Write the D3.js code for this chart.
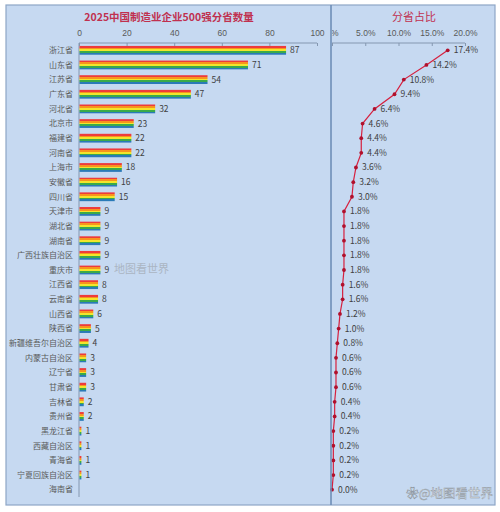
<!DOCTYPE html>
<html><head><meta charset="utf-8">
<script src="https://cdn.jsdelivr.net/npm/d3@7"></script>
<style>body{margin:0;background:#fff;}svg{display:block;font-family:"Microsoft YaHei","Noto Sans CJK SC",sans-serif;}</style>
</head><body><svg id="c" width="500" height="512"></svg>
<script>
const provinces = ["浙江省","山东省","江苏省","广东省","河北省","北京市","福建省","河南省","上海市","安徽省","四川省","天津市","湖北省","湖南省","广西壮族自治区","重庆市","江西省","云南省","山西省","陕西省","新疆维吾尔自治区","内蒙古自治区","辽宁省","甘肃省","吉林省","贵州省","黑龙江省","西藏自治区","青海省","宁夏回族自治区","海南省"];
const counts = [87,71,54,47,32,23,22,22,18,16,15,9,9,9,9,9,8,8,6,5,4,3,3,3,2,2,1,1,1,1,0];
const shares = [17.4,14.2,10.8,9.4,6.4,4.6,4.4,4.4,3.6,3.2,3.0,1.8,1.8,1.8,1.8,1.8,1.6,1.6,1.2,1.0,0.8,0.6,0.6,0.6,0.4,0.4,0.2,0.2,0.2,0.2,0.0];
const countTicks = [0,20,40,60,80,100];
const shareTicks = [0,5,10,15,20];
const shareTickLabels = ["0%","5.0%","10.0%","15.0%","20.0%"];
const stripeColors = ["#ee3b3b","#f7941d","#f2e52b","#3aaa4a","#2a7ab8"];

const svg = d3.select("#c");
svg.append("rect").attr("x",6).attr("y",5).attr("width",489).attr("height",500)
  .attr("fill","#c6d9f1").attr("stroke","#8ea6c6").attr("stroke-width",1.2);

const defs = svg.append("defs");
const grad = defs.append("linearGradient").attr("id","rainbow").attr("x1",0).attr("x2",0).attr("y1",0).attr("y2",1);
stripeColors.forEach((c,i)=>{
  grad.append("stop").attr("offset",i/stripeColors.length).attr("stop-color",c);
  grad.append("stop").attr("offset",(i+1)/stripeColors.length).attr("stop-color",c);
});
defs.append("clipPath").attr("id","rightClip").append("rect").attr("x",332).attr("y",0).attr("width",170).attr("height",512);

const y = d3.scaleBand().domain(provinces).range([43,497]).paddingInner(0.4).paddingOuter(0.2);
const xL = d3.scaleLinear().domain([0,100]).range([79,317]);
const xR = d3.scaleLinear().domain([0,20]).range([332,465]);

svg.append("text").attr("x",169).attr("y",21).attr("text-anchor","middle")
  .attr("font-size",10.5).attr("font-weight","bold").attr("fill","#c0304f").text("2025中国制造业企业500强分省数量");
svg.append("text").attr("x",414).attr("y",21).attr("text-anchor","middle")
  .attr("font-size",11).attr("fill","#c0304f").text("分省占比");

const axL = svg.append("g").attr("transform","translate(0,43)")
  .call(d3.axisTop(xL).tickValues(countTicks).tickSize(-3).tickPadding(7));
axL.selectAll("path,line").attr("stroke","#8497b0");
axL.selectAll("text").attr("fill","#595959").attr("font-size",8.5);
axL.select(".domain").attr("d","M79,0H317");

svg.append("line").attr("x1",79).attr("x2",79).attr("y1",43).attr("y2",497).attr("stroke","#8497b0");

svg.append("g").selectAll("text").data(provinces).join("text")
  .attr("x",73).attr("y",d=>y(d)+y.bandwidth()/2).attr("dy","0.35em")
  .attr("text-anchor","end").attr("font-size",8).attr("fill","#595959").text(d=>d);

const rows = counts.map((c,i)=>({c,p:provinces[i]}));
svg.append("g").selectAll("rect").data(rows).join("rect")
  .attr("x",xL(0)+0.5).attr("y",d=>y(d.p))
  .attr("width",d=>Math.max(0,xL(d.c)-xL(0)-0.5)).attr("height",y.bandwidth())
  .attr("fill","url(#rainbow)");
svg.append("g").selectAll("text").data(rows.filter(d=>d.c>0)).join("text")
  .attr("x",d=>xL(d.c)+4).attr("y",d=>y(d.p)+y.bandwidth()/2)
  .attr("dy","0.35em").attr("font-size",8.5).attr("fill","#404040").text(d=>d.c);

const axR = svg.append("g").attr("clip-path","url(#rightClip)").append("g").attr("transform","translate(0,43)")
  .call(d3.axisTop(xR).tickValues(shareTicks).tickFormat((d,i)=>shareTickLabels[i]).tickSize(-3).tickPadding(7));
axR.selectAll("path,line").attr("stroke","#8497b0");
axR.selectAll("text").attr("fill","#595959").attr("font-size",8.5);
axR.select(".domain").attr("d","M332,0H465");

const pts = shares.map((s,i)=>({s,p:provinces[i]}));
const line = d3.line().x(d=>xR(d.s)).y(d=>y(d.p)+y.bandwidth()/2);
svg.append("path").datum(pts).attr("d",line).attr("fill","none").attr("stroke","#d6203f").attr("stroke-width",1.2);
svg.append("g").selectAll("circle").data(pts).join("circle")
  .attr("cx",d=>xR(d.s)).attr("cy",d=>y(d.p)+y.bandwidth()/2).attr("r",1.9).attr("fill","#b0102c");
svg.append("g").selectAll("text").data(pts).join("text")
  .attr("x",d=>xR(d.s)+6).attr("y",d=>y(d.p)+y.bandwidth()/2).attr("dy","0.35em")
  .attr("font-size",8.5).attr("fill","#404040").text(d=>d.s.toFixed(1)+"%");

svg.append("line").attr("x1",331).attr("x2",331).attr("y1",5).attr("y2",505)
  .attr("stroke","#6f8fb8").attr("stroke-width",1.6);

svg.append("text").attr("x",114).attr("y",273).attr("font-size",11).attr("fill","#8a8a8a").attr("opacity",0.45).text("地图看世界");
svg.append("text").attr("x",493).attr("y",498).attr("text-anchor","end").attr("font-size",12.5)
  .attr("fill","#ffffff").attr("stroke","#8f99a4").attr("stroke-width",0.5).text("❀@地图看世界");
</script></body></html>
